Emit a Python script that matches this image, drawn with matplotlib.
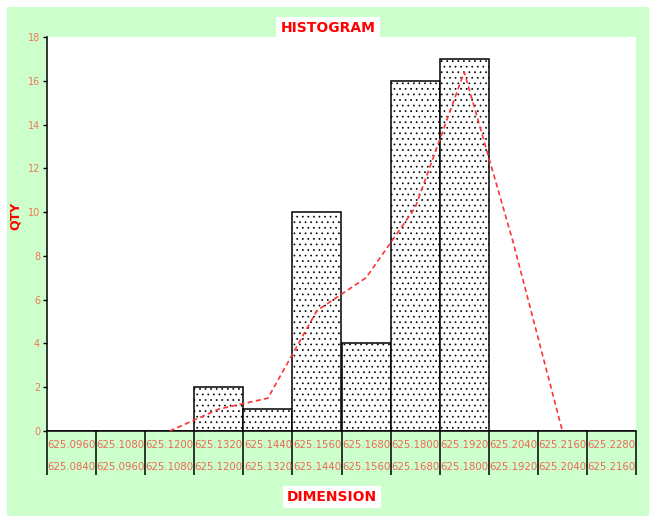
import numpy as np
import matplotlib
matplotlib.use("Agg")
import matplotlib.pyplot as plt
from matplotlib.patches import Rectangle
from matplotlib.transforms import blended_transform_factory

# Bin upper / lower limits shown under each class
upper_labels = ['625.0960', '625.1080', '625.1200', '625.1320', '625.1440', '625.1560',
                '625.1680', '625.1800', '625.1920', '625.2040', '625.2160', '625.2280']
lower_labels = ['625.0840', '625.0960', '625.1080', '625.1200', '625.1320', '625.1440',
                '625.1560', '625.1680', '625.1800', '625.1920', '625.2040', '625.2160']
# Counts per bin
qty = [0, 0, 0, 2, 1, 10, 4, 16, 17, 0, 0, 0]
# Smoothed distribution curve (missing where not plotted)
curve = [np.nan, np.nan, 0, 1.0, 1.5, 5.5, 7.0, 10.2, 16.4, 8.6, 0, np.nan]

plt.rcParams['hatch.linewidth'] = 0.5

W, H = 649, 516
fig = plt.figure(figsize=(W / 100, H / 100), dpi=100)
fig.patch.set_facecolor('white')

# light green chart area
fig.patches.append(Rectangle((7 / W, 0), 1 - 7 / W, 1 - 7 / H, transform=fig.transFigure,
                             facecolor='#CCFFCC', edgecolor='none', zorder=-10))

left, right, top, bottom = 47, 636, 37, 431
ax = fig.add_axes([left / W, 1 - bottom / H, (right - left) / W, (bottom - top) / H])
ax.set_facecolor('white')

n = len(qty)
x = np.arange(n)
ax.bar(x, qty, width=1.0, align='edge', facecolor='white', edgecolor='black',
       linewidth=1.1, hatch='...', zorder=2)
ax.plot(x + 0.5, curve, color='#FF3333', linestyle=(0, (3, 2)), linewidth=1.2, zorder=3)

ax.set_xlim(0, n)
ax.set_ylim(0, 18)
ax.set_yticks(range(0, 19, 2))
ax.tick_params(axis='y', direction='out', length=3, width=1.0, color='black',
               labelsize=7, labelcolor='#EE7755', pad=2)

ax.set_xticks(range(n + 1))
ax.set_xticklabels([])
ax.tick_params(axis='x', direction='out', length=31.7, width=1.1, color='black')

for s in ('top', 'right'):
    ax.spines[s].set_visible(False)
for s in ('left', 'bottom'):
    ax.spines[s].set_linewidth(1.1)
    ax.spines[s].set_color('black')

tr = blended_transform_factory(ax.transData, ax.transAxes)
h = bottom - top
for i in range(n):
    ax.text(i + 0.5, -14 / h, upper_labels[i], transform=tr, ha='center', va='center',
            fontsize=7.3, color='#EE6655', clip_on=False)
    ax.text(i + 0.5, -36 / h, lower_labels[i], transform=tr, ha='center', va='center',
            fontsize=7.3, color='#EE6655', clip_on=False)

fig.text(328 / W, 1 - 28.5 / H, 'HISTOGRAM', ha='center', va='center', fontsize=10,
         fontweight='bold', color='#FF0000',
         bbox=dict(facecolor='white', edgecolor='none', pad=3))
fig.text(332 / W, 1 - 497 / H, 'DIMENSION', ha='center', va='center', fontsize=10,
         fontweight='bold', color='#FF0000',
         bbox=dict(facecolor='white', edgecolor='none', pad=3))
fig.text(15 / W, 1 - 216 / H, 'QTY', ha='center', va='center', fontsize=9,
         fontweight='bold', color='#FF0000', rotation=90)

fig.savefig('out.png', dpi=100, facecolor=fig.get_facecolor())
